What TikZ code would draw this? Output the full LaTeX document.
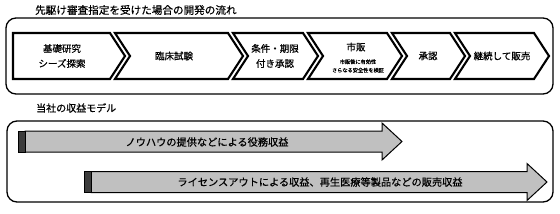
\documentclass[tikz,border=0pt]{standalone}
\usepackage{fontspec}
\setmainfont[FakeBold=0.6]{Noto Sans CJK JP}
\definecolor{barFill}{HTML}{C0C0C0}
\definecolor{capFill}{HTML}{3C3C3C}

\begin{document}
\begin{tikzpicture}[
  x=1pt, y=-1pt,
  frame/.style ={draw=black, line width=1.3pt, rounded corners=10pt},
  chev/.style  ={draw=black, line width=2.1pt, fill=white, line join=miter},
  rev/.style   ={draw=black, line width=1pt, fill=barFill},
  revcap/.style={draw=black, line width=1pt, fill=capFill},
  ttl/.style   ={anchor=west, inner sep=0pt, font=\fontsize{10.6}{12}\selectfont},
  lbl/.style   ={inner sep=0pt, align=center, font=\fontsize{9.5}{15}\selectfont},
  note/.style  ={inner sep=0pt, align=center, font=\fontsize{5.2}{8.5}\selectfont},
  albl/.style  ={inner sep=0pt, font=\fontsize{10.2}{12}\selectfont},
]
\useasboundingbox (0,0) rectangle (560,214);

% ==================== UPPER: development flow ====================
\node[ttl] (flowtitle) at (35,10) {先駆け審査指定を受けた場合の開発の流れ};
\draw[frame] (6,18) rectangle (553,94);

% first step has a flat back, the others a notch
\draw[chev] (13,33) -- (110,33) -- ++(15,23) -- ++(-15,23) -- (13,79) -- cycle;
\foreach \xa/\xb in {115/228, 233/303, 308/387, 392/450, 455/534}
  \draw[chev] (\xa,33) -- (\xb,33) -- ++(15,23) -- ++(-15,23) -- (\xa,79) -- ++(15,-23) -- cycle;

\node[lbl] (basic)    at (62,56)  {基礎研究\\シーズ探索};
\node[lbl] (clinical) at (174,56) {臨床試験};
\node[lbl] (condappr) at (275,56) {条件・期限\\付き承認};
\node[lbl] (market)   at (356,47) {市販};
\node[note] (marketnote) at (358,66) {市販後に有効性\\さらなる安全性を検証};
\node[lbl] (approval) at (428,56) {承認};
\node[lbl] (sales)    at (502,56) {継続して販売};

% ==================== LOWER: revenue model ====================
\node[ttl, font=\fontsize{10}{12}\selectfont] (modeltitle) at (36,108) {当社の収益モデル};
\draw[frame] (7,121) rectangle (553,202);

% service revenue
\draw[rev] (25,131) -- (382,131) -- (382,123) -- (402,141.5) -- (382,160) -- (382,152) -- (25,152) -- cycle;
\draw[revcap] (18,131) rectangle (25,152);
\node[albl] (service) at (207,142) {ノウハウの提供などによる役務収益};

% license / product revenue
\draw[rev] (91,171.5) -- (527,171.5) -- (527,163.5) -- (547,182) -- (527,200.5) -- (527,192.5) -- (91,192.5) -- cycle;
\draw[revcap] (84,171.5) rectangle (91,192.5);
\node[albl] (license) at (320,182) {ライセンスアウトによる収益、再生医療等製品などの販売収益};

\end{tikzpicture}
\end{document}
